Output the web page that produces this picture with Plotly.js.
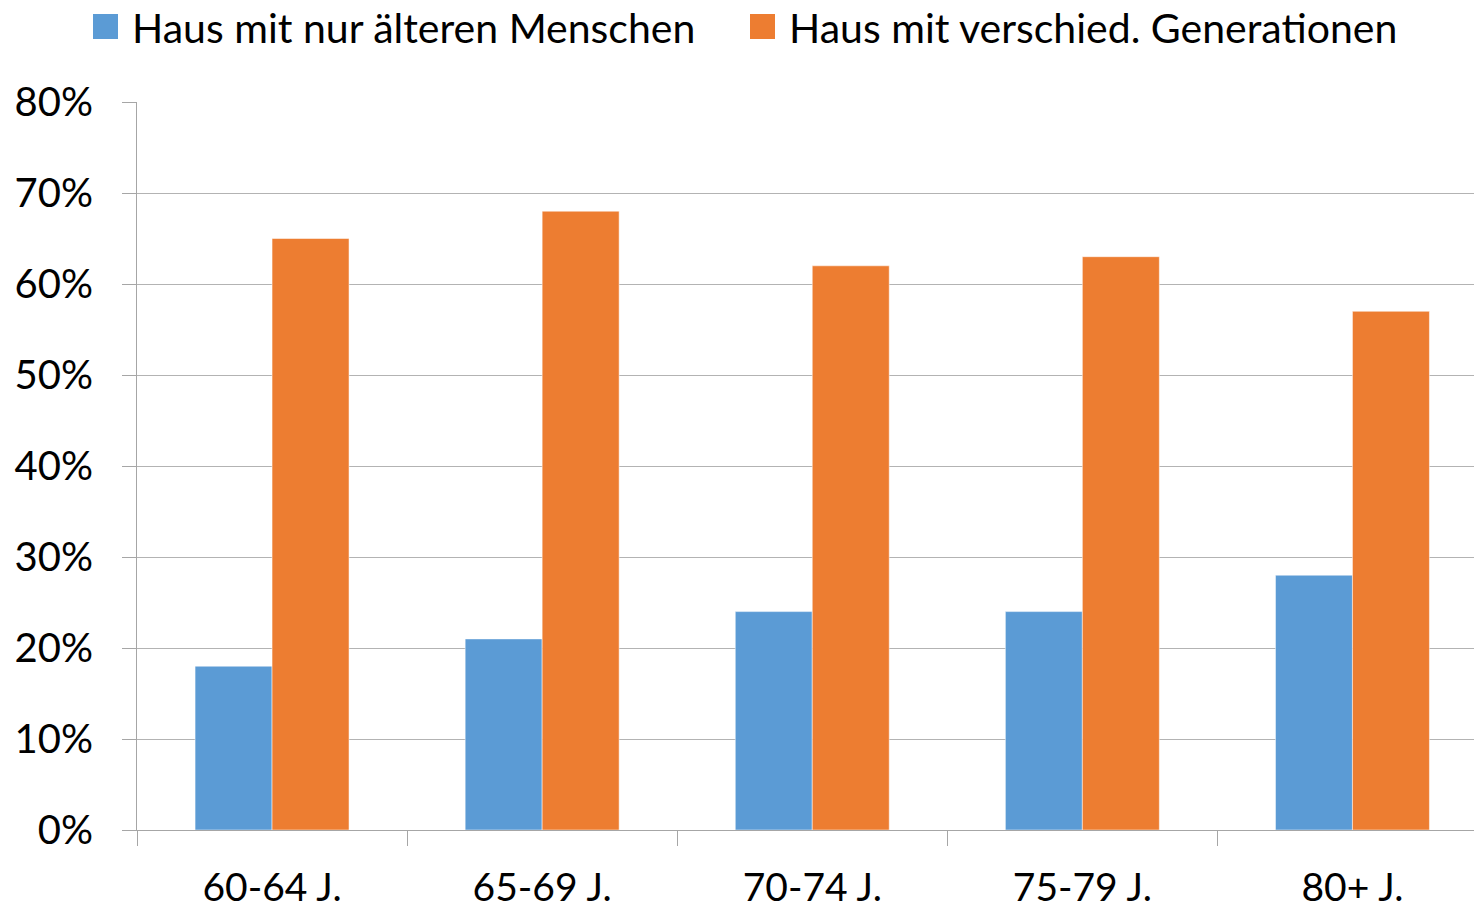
<!DOCTYPE html>
<html><head><meta charset="utf-8">
<script src="https://cdn.plot.ly/plotly-3.0.1.min.js"></script>
<style>html,body{margin:0;padding:0;background:#fff}#chart{width:1474px;height:912px}</style>
</head><body><div id="chart"></div>
<script>
const categories = ["60-64 J.", "65-69 J.", "70-74 J.", "75-79 J.", "80+ J."];
const seriesNames = ["Haus mit nur älteren Menschen", "Haus mit verschied. Generationen"];
const olderOnly = [0.18, 0.21, 0.24, 0.24, 0.28];
const multiGen = [0.65, 0.68, 0.62, 0.63, 0.57];
const yTicks = [0, 0.1, 0.2, 0.3, 0.4, 0.5, 0.6, 0.7, 0.8];
const yTickLabels = ["0%", "10%", "20%", "30%", "40%", "50%", "60%", "70%", "80%"];

const font = "Lato, Liberation Sans, Arial, sans-serif";
const data = [
  {type: "bar", name: seriesNames[0], x: categories, y: olderOnly,
   marker: {color: "#5B9BD5", line: {color: "#ffffff", width: 0.5}}, hoverinfo: "none"},
  {type: "bar", name: seriesNames[1], x: categories, y: multiGen,
   marker: {color: "#ED7D31", line: {color: "#ffffff", width: 0.5}}, hoverinfo: "none"}
];
const layout = {
  width: 1474, height: 912,
  margin: {l: 137, r: 0, t: 102, b: 82},
  paper_bgcolor: "#fff", plot_bgcolor: "#fff",
  font: {family: font, size: 40, color: "#000"},
  barmode: "group", bargap: 0.43, bargroupgap: 0,
  showlegend: true,
  legend: {orientation: "h", x: 92 / 1474, xref: "container", xanchor: "left", y: 0.9705, yref: "container", yanchor: "middle",
           font: {family: font, size: 41, color: "#000"}, itemwidth: 30, tracegroupgap: 0,
           entrywidth: 612, entrywidthmode: "pixels"},
  xaxis: {type: "category", range: [-0.5, 4.45], tickson: "boundaries", ticks: "outside", ticklen: 15, tickcolor: "#a6a6a6", tickwidth: 1,
          showgrid: false, showline: true, linecolor: "#a6a6a6", linewidth: 1,
          tickfont: {family: font, size: 39, color: "#000"}, ticklabelstandoff: 23},
  yaxis: {range: [0, 0.8], tickvals: yTicks, ticktext: yTickLabels, ticks: "outside", ticklen: 14,
          tickcolor: "#a6a6a6", showgrid: true, gridcolor: "#b3b3b3", gridwidth: 1,
          showline: true, linecolor: "#a6a6a6", zeroline: true, zerolinecolor: "#a6a6a6",
          tickfont: {family: font, size: 40, color: "#000"}, ticklabelstandoff: 21}
};
Plotly.newPlot("chart", data, layout, {displayModeBar: false, staticPlot: true}).then(function (gd) {
  // enlarge legend swatches to match the reference's large square keys
  gd.querySelectorAll(".legend .legendpoints path").forEach(function (p) {
    p.setAttribute("d", "M6,12.5H-19V-12.5H6Z");
    p.style.strokeWidth = "0";
  });
});
</script></body></html>
